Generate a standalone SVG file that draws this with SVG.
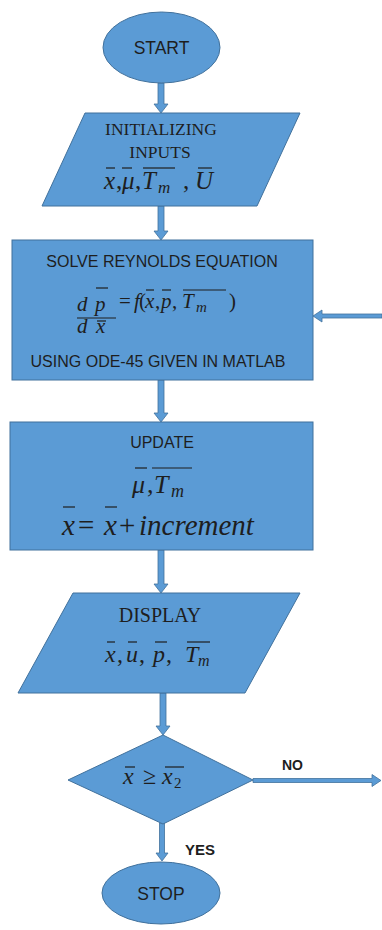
<svg xmlns="http://www.w3.org/2000/svg" width="382" height="930" viewBox="0 0 382 930">
<style>
.shape{fill:#5b9bd5;stroke:#41719c;stroke-width:1}
.arr{fill:#5b9bd5;stroke:#41719c;stroke-width:0.8}
.sans{font-family:"Liberation Sans","Open Sans",sans-serif;fill:#1e1e1e}
.serif{font-family:"Liberation Serif","DejaVu Serif",serif;fill:#1e1e1e}
.math{font-family:"Liberation Serif","DejaVu Serif",serif;font-style:italic;fill:#1e1e1e}
.up{font-style:normal}
.ov{stroke:#1e1e1e;stroke-width:1.2}
</style>
<rect width="382" height="930" fill="#ffffff"/>

<g id="connectors">
  <path class="arr" d="M158,83 L164,83 L164,104 L168,104 L161,113 L154,104 L158,104 Z"/>
  <path class="arr" d="M158,206 L164,206 L164,231 L168,231 L161,240 L154,231 L158,231 Z"/>
  <path class="arr" d="M158,380 L164,380 L164,413 L168,413 L161,422 L154,413 L158,413 Z"/>
  <path class="arr" d="M158,550 L164,550 L164,584 L168,584 L161,593 L154,584 L158,584 Z"/>
  <path class="arr" d="M160,693 L166,693 L166,726 L170,726 L163,735 L156,726 L160,726 Z"/>
  <path class="arr" d="M159.5,823 L164.5,823 L164.5,853 L168,853 L162,861 L156,853 L159.5,853 Z"/>
  <path class="arr" d="M253,778.5 L372,778.5 L372,774.5 L381,780.5 L372,786.5 L372,782.5 L253,782.5 Z"/>
  <path class="arr" d="M382,314 L322,314 L322,310 L313,316 L322,322 L322,318 L382,318 Z"/>
  <text class="sans" x="282" y="770" font-size="14" font-weight="bold">NO</text>
  <text class="sans" x="185" y="855" font-size="15" font-weight="bold">YES</text>
</g>

<g id="start">
  <ellipse class="shape" cx="161.5" cy="47.5" rx="58.5" ry="35.5"/>
  <text class="sans" x="161.5" y="54" font-size="17.5" text-anchor="middle">START</text>
</g>

<g id="init">
  <polygon class="shape" points="85,113 300,113 257,206 42,206"/>
  <text class="serif" x="161" y="135" font-size="17.5" text-anchor="middle">INITIALIZING</text>
  <text class="serif" x="160" y="158" font-size="17.5" text-anchor="middle">INPUTS</text>
  <text class="math" y="189" font-size="25"><tspan x="104">x</tspan><tspan x="116" class="up">,</tspan><tspan x="122">μ</tspan><tspan x="135" class="up">,</tspan><tspan x="142">T</tspan><tspan x="158" y="193" font-size="17">m</tspan><tspan x="183" y="189" class="up">,</tspan><tspan x="195">U</tspan></text>
  <line class="ov" x1="106" y1="168" x2="115" y2="168"/>
  <line class="ov" x1="122" y1="168" x2="132" y2="168"/>
  <line class="ov" x1="143" y1="168" x2="175" y2="168"/>
  <line class="ov" x1="198" y1="168" x2="212" y2="168"/>
</g>

<g id="solve">
  <rect class="shape" x="12" y="240" width="301" height="140"/>
  <text class="sans" x="162" y="267" font-size="16" text-anchor="middle">SOLVE REYNOLDS EQUATION</text>
  <text class="math" font-size="21"><tspan x="77" y="311">d</tspan><tspan x="95" y="311">p</tspan><tspan x="77" y="333">d</tspan><tspan x="96" y="333">x</tspan></text>
  <line class="ov" x1="77" y1="318" x2="116" y2="318"/>
  <line class="ov" x1="96" y1="288" x2="108" y2="288"/>
  <line class="ov" x1="97" y1="321" x2="106" y2="321"/>
  <text class="math" font-size="21" y="308"><tspan x="119" class="up">=</tspan><tspan x="134">f</tspan><tspan x="139" class="up">(</tspan><tspan x="145">x</tspan><tspan x="155" class="up">,</tspan><tspan x="161">p</tspan><tspan x="172" class="up">,</tspan><tspan x="182">T</tspan><tspan x="196" y="312" font-size="15">m</tspan><tspan x="229" y="308" class="up">)</tspan></text>
  <line class="ov" x1="146" y1="290" x2="154" y2="290"/>
  <line class="ov" x1="162" y1="290" x2="171" y2="290"/>
  <line class="ov" x1="183" y1="290" x2="226" y2="290"/>
  <text class="sans" x="158" y="367" font-size="16" text-anchor="middle">USING ODE-45 GIVEN IN MATLAB</text>
</g>

<g id="update">
  <rect class="shape" x="10" y="422" width="303" height="128"/>
  <text class="sans" x="162" y="448" font-size="16" text-anchor="middle">UPDATE</text>
  <text class="math" font-size="26" y="493"><tspan x="132">μ</tspan><tspan x="147" class="up">,</tspan><tspan x="154">T</tspan><tspan x="171" y="497" font-size="18">m</tspan></text>
  <line class="ov" x1="135" y1="468" x2="147" y2="468"/>
  <line class="ov" x1="152" y1="468" x2="192" y2="468"/>
  <text class="math" font-size="29" y="535"><tspan x="62">x</tspan><tspan x="78" class="up">=</tspan><tspan x="104">x</tspan><tspan x="119" class="up">+</tspan><tspan x="139">increment</tspan></text>
  <line class="ov" x1="63" y1="507" x2="75" y2="507" stroke-width="1.5"/>
  <line class="ov" x1="105" y1="507" x2="117" y2="507" stroke-width="1.5"/>
</g>

<g id="display">
  <polygon class="shape" points="73,593 300,593 245,693 18,693"/>
  <text class="serif" x="160" y="622" font-size="20" text-anchor="middle">DISPLAY</text>
  <text class="math" font-size="24" y="662"><tspan x="105">x</tspan><tspan x="117" class="up">,</tspan><tspan x="126">u</tspan><tspan x="139" class="up">,</tspan><tspan x="153">p</tspan><tspan x="166" class="up">,</tspan><tspan x="185">T</tspan><tspan x="198" y="666" font-size="16">m</tspan></text>
  <line class="ov" x1="107" y1="642" x2="115" y2="642"/>
  <line class="ov" x1="128" y1="642" x2="137" y2="642"/>
  <line class="ov" x1="155" y1="642" x2="167" y2="642"/>
  <line class="ov" x1="187" y1="642" x2="210" y2="642"/>
</g>

<g id="decision">
  <polygon class="shape" points="163,735 253,780 163,824 68,780"/>
  <text class="math" font-size="24" y="784"><tspan x="123">x</tspan><tspan x="143" class="up">≥</tspan><tspan x="162">x</tspan><tspan x="174" y="788" font-size="15" class="up">2</tspan></text>
  <line class="ov" x1="125" y1="767" x2="135" y2="767"/>
  <line class="ov" x1="165" y1="767" x2="184" y2="767"/>
</g>

<g id="stop">
  <ellipse class="shape" cx="161" cy="893" rx="59" ry="31"/>
  <text class="sans" x="161" y="900" font-size="17.5" text-anchor="middle">STOP</text>
</g>
</svg>
